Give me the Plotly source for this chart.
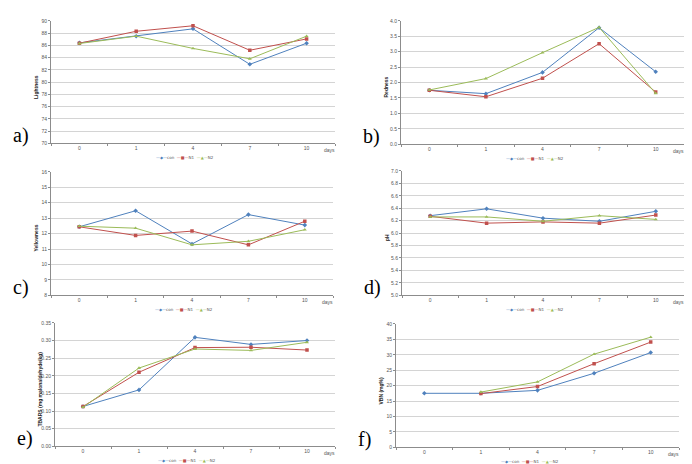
import plotly.graph_objects as go

W, H = 692, 464

days = ["0", "1", "4", "7", "10"]
series_names = ["con", "N1", "N2"]
colors = ["#4F81BD", "#C0504D", "#9BBB59"]
symbols = ["diamond", "square", "triangle-up"]

# a) Lightness
light_con = [86.4, 87.5, 88.7, 82.9, 86.35]
light_n1 = [86.35, 88.3, 89.2, 85.2, 87.05]
light_n2 = [86.3, 87.5, 85.5, 83.8, 87.5]
# b) Redness
red_con = [1.75, 1.64, 2.33, 3.78, 2.35]
red_n1 = [1.75, 1.54, 2.14, 3.26, 1.69]
red_n2 = [1.76, 2.13, 2.97, 3.79, 1.65]
# c) Yellowness
yel_con = [12.44, 13.48, 11.33, 13.23, 12.55]
yel_n1 = [12.44, 11.88, 12.16, 11.27, 12.8]
yel_n2 = [12.48, 12.35, 11.27, 11.5, 12.25]
# d) pH
ph_con = [6.28, 6.39, 6.24, 6.19, 6.35]
ph_n1 = [6.27, 6.16, 6.18, 6.16, 6.29]
ph_n2 = [6.26, 6.26, 6.19, 6.28, 6.22]
# e) TBARS
tba_con = [0.113, 0.160, 0.309, 0.289, 0.300]
tba_n1 = [0.113, 0.210, 0.280, 0.281, 0.273]
tba_n2 = [0.111, 0.222, 0.276, 0.272, 0.295]
# f) VBN
vbn_con = [17.5, 17.5, 18.45, 24.0, 30.7]
vbn_n1 = [None, 17.4, 19.7, 27.1, 34.1]
vbn_n2 = [None, 17.9, 21.2, 30.2, 35.7]

panels = [
    dict(label="a)", title="Lightness", data=[light_con, light_n1, light_n2],
         rng=[70, 90], dtick=2, fmt="d", box=(43, 327, 10, 134)),
    dict(label="b)", title="Redness", data=[red_con, red_n1, red_n2],
         rng=[0, 4], dtick=0.5, fmt=".1f", box=(393, 676, 10, 135)),
    dict(label="c)", title="Yellowness", data=[yel_con, yel_n1, yel_n2],
         rng=[8, 16], dtick=1, fmt="d", box=(43, 325, 163, 288)),
    dict(label="d)", title="pH", data=[ph_con, ph_n1, ph_n2],
         rng=[5, 7], dtick=0.2, fmt=".1f", box=(394, 676, 162, 288)),
    dict(label="e)", title="TBARS (mg malonaldehyde/kg)", data=[tba_con, tba_n1, tba_n2],
         rng=[0, 0.35], dtick=0.05, fmt=".2f", box=(47, 327, 316, 441)),
    dict(label="f)", title="VBN (mg%)", data=[vbn_con, vbn_n1, vbn_n2],
         rng=[0, 40], dtick=5, fmt="d", box=(388, 671, 317, 442)),
]

fig = go.Figure()
annotations = []
tickfont = dict(family="Liberation Sans", size=5, color="#555555")

for i, p in enumerate(panels):
    n = i + 1
    sfx = "" if n == 1 else str(n)
    x0, x1, y0, y1 = p["box"]
    for s, vals in enumerate(p["data"]):
        fig.add_trace(go.Scatter(
            x=days, y=vals, mode="lines+markers", name=series_names[s],
            line=dict(color=colors[s], width=1),
            marker=dict(color=colors[s], symbol=symbols[s], size=3.5),
            xaxis="x" + sfx, yaxis="y" + sfx, showlegend=False,
            connectgaps=False,
        ))
    fig.layout["xaxis" + sfx] = dict(
        domain=[x0 / W, x1 / W], anchor="y" + sfx, type="category",
        categoryorder="array", categoryarray=days,
        range=[-0.5, 4.5], showgrid=False, showline=True, linecolor="#8c8c8c",
        linewidth=1, ticks="outside", tickson="boundaries", ticklen=2,
        tickcolor="#8c8c8c", tickfont=tickfont, zeroline=False, fixedrange=True,
    )
    fig.layout["yaxis" + sfx] = dict(
        domain=[1 - y1 / H, 1 - y0 / H], anchor="x" + sfx,
        range=p["rng"], dtick=p["dtick"], tick0=p["rng"][0], tickformat=p["fmt"],
        showgrid=True, gridcolor="#d4d4d4", gridwidth=1,
        showline=True, linecolor="#8c8c8c", linewidth=1,
        ticks="outside", ticklen=2, tickcolor="#8c8c8c",
        tickfont=tickfont, zeroline=False, fixedrange=True,
    )
    # y-axis title
    annotations.append(dict(
        x=(x0 - 15) / W, y=1 - ((y0 + y1) / 2 + 5) / H, xref="paper", yref="paper",
        text="<b>%s</b>" % p["title"], textangle=-90, showarrow=False,
        font=dict(family="Liberation Sans", size=5, color="#222222"),
        xanchor="center", yanchor="middle",
    ))
    # "days" label
    annotations.append(dict(
        x=(x1 - 6) / W, y=1 - (y1 + 7) / H, xref="paper", yref="paper",
        text="days", showarrow=False, font=tickfont,
        xanchor="center", yanchor="middle",
    ))
    # legend
    leg = ("<span style='color:%s'>—◆—</span>con  "
           "<span style='color:%s'>—■—</span>N1  "
           "<span style='color:%s'>—▲—</span>N2") % tuple(colors)
    annotations.append(dict(
        x=((x0 + x1) / 2 - 8) / W, y=1 - (y1 + 14) / H, xref="paper", yref="paper",
        text=leg, showarrow=False,
        font=dict(family="DejaVu Sans", size=4, color="#555555"),
        xanchor="center", yanchor="middle",
    ))
    # panel label
    annotations.append(dict(
        x=(x0 - 40 if x0 < 100 else x0 - 40) / W, y=1 - (y1 - 8) / H,
        xref="paper", yref="paper", text=p["label"], showarrow=False,
        font=dict(family="Liberation Serif", size=20, color="#000000"),
        xanchor="left", yanchor="middle",
    ))

fig.update_layout(
    width=W, height=H, margin=dict(l=0, r=0, t=0, b=0),
    paper_bgcolor="white", plot_bgcolor="white",
    annotations=annotations, showlegend=False,
)

fig.write_html("out.html")
